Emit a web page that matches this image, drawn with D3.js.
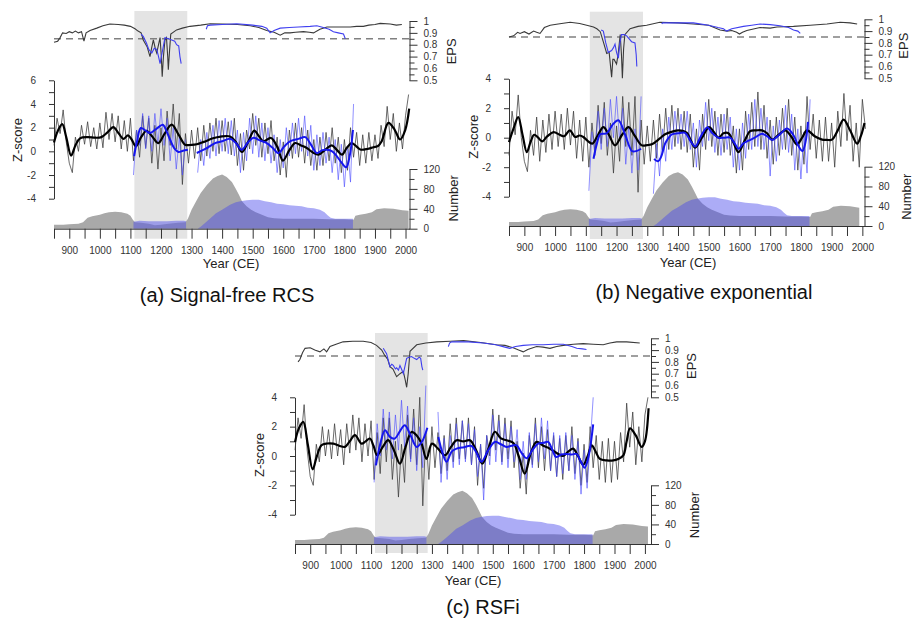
<!DOCTYPE html>
<html><head><meta charset="utf-8">
<script src="https://cdn.jsdelivr.net/npm/d3@7"></script>
<style>
body{margin:0;background:#fff}
svg{display:block}
text{font-family:"Liberation Sans",Arial,sans-serif}
</style>
</head><body>
<svg id="chart" width="915" height="623"></svg>
<script>
// ---------------- DATA ----------------
const shadePeriod = [1113, 1286];
const epsThreshold = 0.85;
const epsTickValues = [0.5,0.55,0.6,0.65,0.7,0.75,0.8,0.85,0.9,0.95,1];
const numTickValues = [0,20,40,60,80,100,120];
const yearTickValues = [850,900,950,1000,1050,1100,1150,1200,1250,1300,1350,1400,1450,1500,1550,1600,1650,1700,1750,1800,1850,1900,1950,2000];

// sample depth (shared by all panels): [year, number]
const depthGrey = [[850,8],[880,8],[900,9],[930,10],[945,13],[960,22],[975,25],[1000,28],[1015,31],[1030,33],[1050,34],[1070,33],[1090,30],[1100,26],[1108,18],[1115,13],[1135,12],[1160,10],[1180,7],[1200,8],[1225,10],[1255,12],[1280,13],[1288,20],[1300,38],[1315,55],[1330,72],[1350,88],[1370,101],[1385,106],[1400,109],[1415,104],[1432,94],[1445,80],[1455,68],[1465,55],[1480,45],[1495,38],[1510,33],[1530,28],[1550,23],[1570,21],[1600,20],[1650,20],[1700,20],[1750,19],[1800,19],[1830,18],[1836,26],[1850,28],[1870,30],[1890,33],[1905,39],[1930,41],[1960,40],[1990,37],[2010,36]];
const depthBlue1 = [[1110,14],[1130,16],[1160,15],[1190,15],[1220,15],[1250,16],[1275,16],[1282,15]];
const depthBlue2 = [[1320,0],[1330,4],[1345,12],[1360,20],[1380,31],[1400,38],[1426,48],[1445,53],[1460,55],[1480,57],[1500,58],[1520,58],[1540,55],[1560,53],[1580,50],[1600,49],[1620,47],[1640,46],[1660,45],[1680,42],[1700,41],[1720,38],[1735,33],[1745,27],[1755,22],[1770,20],[1800,20],[1828,20]];

// year grids of the annual (decadal-sampled) series
const noiseYears = d3.range(850, 2011, 10);
const blueYears1 = d3.range(1110, 1281, 10);
const blueYears2 = d3.range(1320, 1831, 10);

// ---- panel (a) ----
const epsBlackA = [[850,0.82],[862,0.83],[870,0.86],[878,0.9],[890,0.895],[900,0.91],[910,0.9],[920,0.915],[930,0.9],[940,0.91],[948,0.83],[955,0.9],[968,0.92],[990,0.94],[1010,0.96],[1033,0.975],[1060,0.97],[1080,0.965],[1100,0.955],[1115,0.935],[1125,0.915],[1135,0.9],[1142,0.84],[1155,0.78],[1164,0.7],[1170,0.78],[1175,0.84],[1182,0.76],[1186,0.73],[1192,0.8],[1197,0.86],[1201,0.7],[1204,0.53],[1208,0.7],[1213,0.84],[1218,0.86],[1222,0.7],[1224,0.59],[1228,0.75],[1232,0.89],[1251,0.925],[1270,0.94],[1295,0.955],[1330,0.965],[1361,0.977],[1400,0.975],[1450,0.97],[1492,0.96],[1520,0.945],[1546,0.92],[1570,0.905],[1590,0.88],[1605,0.9],[1622,0.9],[1640,0.905],[1666,0.91],[1685,0.905],[1699,0.9],[1720,0.93],[1743,0.95],[1780,0.95],[1819,0.95],[1840,0.955],[1862,0.955],[1880,0.965],[1900,0.97],[1917,0.98],[1950,0.975],[1970,0.965],[1988,0.97]];
const epsBlueA1 = [[1135,0.89],[1142,0.87],[1153,0.81],[1160,0.76],[1170,0.73],[1178,0.77],[1186,0.76],[1192,0.7],[1197,0.64],[1205,0.75],[1213,0.86],[1225,0.85],[1235,0.84],[1245,0.83],[1251,0.8],[1258,0.79],[1262,0.7],[1266,0.64]];
const epsBlueA2 = [[1348,0.93],[1352,0.96],[1361,0.965],[1400,0.97],[1448,0.977],[1500,0.965],[1530,0.955],[1546,0.94],[1557,0.9],[1570,0.92],[1590,0.94],[1620,0.945],[1650,0.95],[1688,0.955],[1710,0.96],[1731,0.945],[1750,0.93],[1764,0.91],[1780,0.9],[1797,0.89],[1803,0.85]];
const noiseBlackA = [
 0.5,2.8,1.5,3.5,0.8,-1.0,-1.8,1.2,0.0,2.2,
 0.6,2.5,0.4,2.0,0.2,2.4,0.3,3.3,1.0,3.2,
 0.8,3.0,0.2,2.6,0.0,2.8,-0.8,1.8,-0.5,3.0,
 0.3,2.8,-1.0,2.2,-1.5,2.0,-0.8,3.4,0.5,4.0,
 0.2,3.2,-2.8,1.5,-1.0,1.8,-0.6,2.0,-0.8,2.2,
 -0.4,2.4,0.0,2.8,-0.2,2.6,0.0,2.5,-0.3,2.8,
 -1.2,1.5,-1.6,1.8,0.2,3.2,0.5,2.8,-0.5,2.4,
 -0.2,2.6,-0.8,1.2,-2.0,0.8,-2.2,1.8,-0.6,2.4,
 -0.5,2.0,-1.0,1.8,-1.2,1.0,-1.6,1.2,-1.2,1.6,
 -0.8,2.0,-1.0,1.2,-1.8,1.0,-1.6,2.0,-0.5,1.6,
 -1.2,1.4,-1.0,1.6,-0.8,1.4,-0.6,2.2,0.4,3.8,
 1.0,3.2,0.0,2.4,0.2,3.0,4.8];
const noiseBlueA1 = [-2.0,1.8,0.5,3.2,0.2,3.0,0.0,3.2,0.6,3.6,0.5,2.8,-0.8,2.0,-1.5,1.2,-2.0,1.0];
const noiseBlueA2 = [
 -1.8,1.0,-1.2,1.6,-0.6,2.2,-0.4,2.6,0.0,2.8,
 -0.2,2.6,-0.4,1.8,-1.8,1.6,-0.8,2.8,-0.2,3.0,
 -0.5,2.4,-0.8,2.0,-1.0,1.4,-1.8,1.0,-1.4,2.0,
 -0.4,2.4,-0.2,2.8,0.0,3.0,-0.4,2.2,-1.6,1.4,
 -1.2,1.6,-1.0,1.2,-1.8,1.0,-2.4,0.6,-3.0,0.4,
 -2.6,4.0];
const smoothBlackA = [[850,0.75],[862,1.7],[877,2.3],[890,1.2],[906,-0.36],[920,0.5],[935,1.1],[960,1.2],[985,1.15],[1005,1.2],[1025,1.6],[1044,2.05],[1062,1.5],[1077,1.05],[1092,1.35],[1104,1.0],[1118,0.42],[1135,1.2],[1153,1.74],[1170,1.3],[1191,0.7],[1212,1.5],[1235,2.25],[1258,1.4],[1279,0.56],[1300,0.55],[1317,0.6],[1340,0.8],[1370,1.1],[1395,1.25],[1426,1.26],[1445,0.8],[1465,-0.05],[1485,0.8],[1505,1.75],[1520,1.3],[1535,0.85],[1560,1.13],[1580,0.4],[1599,-0.78],[1620,0.1],[1639,0.7],[1658,0.5],[1677,0.28],[1697,-0.1],[1715,-0.28],[1738,0.15],[1759,0.5],[1776,0.1],[1792,-0.28],[1808,0.3],[1824,0.7],[1840,0.4],[1852,0.15],[1875,0.2],[1895,0.35],[1910,0.45],[1922,0.85],[1944,2.4],[1965,1.8],[1982,1.0],[1999,1.8],[2012,3.6]];
const smoothBlueA1 = [[1112,-0.4],[1122,0.9],[1134,1.97],[1150,1.75],[1164,1.55],[1185,1.9],[1206,2.24],[1218,1.7],[1230,0.98],[1245,0.2],[1257,-0.05],[1272,0.05],[1288,0.14]];
const smoothBlueA2 = [[1317,-0.14],[1345,0.2],[1377,0.7],[1400,0.85],[1426,1.07],[1445,0.7],[1464,0.14],[1483,0.7],[1502,1.15],[1525,0.9],[1546,0.7],[1565,0.3],[1584,-0.14],[1603,0.4],[1622,0.85],[1650,1.05],[1672,1.2],[1692,0.5],[1710,-0.14],[1728,0.1],[1743,0.14],[1760,0.0],[1775,-0.4],[1792,-1.0],[1806,-1.34],[1818,-0.3],[1828,1.8]];

// ---- panel (b) ----
const epsBlackB = [[850,0.85],[865,0.86],[878,0.89],[886,0.88],[900,0.895],[915,0.875],[930,0.9],[940,0.89],[951,0.88],[965,0.93],[984,0.95],[1010,0.96],[1049,0.975],[1080,0.965],[1103,0.95],[1125,0.935],[1136,0.92],[1147,0.895],[1158,0.8],[1168,0.71],[1176,0.72],[1184,0.51],[1188,0.66],[1192,0.66],[1200,0.62],[1205,0.7],[1212,0.87],[1216,0.7],[1219,0.5],[1223,0.75],[1227,0.87],[1244,0.92],[1270,0.94],[1298,0.95],[1341,0.975],[1400,0.97],[1450,0.96],[1500,0.95],[1537,0.91],[1560,0.9],[1575,0.905],[1591,0.89],[1600,0.875],[1610,0.89],[1624,0.905],[1667,0.93],[1700,0.925],[1722,0.935],[1776,0.94],[1830,0.95],[1885,0.96],[1928,0.975],[1960,0.97],[1983,0.96]];
const epsBlueB1 = [[1150,0.91],[1157,0.9],[1165,0.8],[1173,0.72],[1184,0.735],[1190,0.76],[1195,0.79],[1200,0.72],[1206,0.67],[1211,0.8],[1216,0.87],[1225,0.87],[1233,0.86],[1249,0.81],[1260,0.8],[1264,0.7],[1266,0.6]];
const epsBlueB2 = [[1347,0.96],[1350,0.97],[1400,0.97],[1450,0.97],[1500,0.95],[1530,0.93],[1548,0.92],[1558,0.9],[1575,0.92],[1613,0.94],[1640,0.95],[1667,0.96],[1700,0.955],[1732,0.945],[1760,0.93],[1776,0.91],[1790,0.9],[1798,0.88]];
const noiseBlackB = [
 -1.2,1.8,0.2,2.9,0.0,-1.6,-2.3,0.5,-1.2,1.4,
 -1.6,1.2,-1.0,1.6,-0.8,1.8,-0.6,1.6,-0.8,2.0,
 -0.5,1.8,-1.4,1.2,-1.6,1.4,-2.0,1.0,-1.0,2.2,
 -0.4,2.4,-1.2,1.0,-2.4,0.8,-1.6,2.8,-0.6,2.4,
 -1.2,2.8,-3.7,1.2,-1.8,0.8,-1.6,1.2,-1.4,1.6,
 -1.0,2.0,-0.8,2.2,-0.6,2.0,-0.8,1.8,-1.0,1.6,
 -2.0,0.6,-2.2,1.6,-0.8,2.6,-0.6,1.8,-1.2,1.6,
 -1.0,2.0,-1.2,0.8,-2.4,0.6,-2.2,1.8,-0.8,2.4,
 -0.6,3.1,-0.8,2.2,-1.4,1.2,-1.8,1.4,-1.2,2.0,
 -0.8,2.6,-1.2,1.4,-2.2,0.8,-1.8,2.8,-0.8,1.6,
 -1.4,1.2,-1.6,1.4,-1.6,1.0,-2.0,1.8,-0.6,3.0,
 -0.2,2.2,-1.6,1.0,-2.0,2.6,0.6];
const noiseBlueB1 = [-3.6,0.4,-1.2,1.8,-0.8,2.0,-0.6,2.6,0.0,2.8,-0.2,2.0,-1.8,0.8,-2.4,0.6,-2.2,2.8];
const noiseBlueB2 = [
 -3.8,-0.4,-2.6,0.6,-1.6,1.4,-0.8,1.8,-0.4,1.6,
 -0.6,1.8,-0.8,1.0,-2.0,1.2,-0.6,2.4,-0.2,2.0,
 -1.0,1.4,-1.2,1.6,-0.8,1.4,-2.0,0.6,-2.2,1.0,
 -1.4,1.6,-0.8,2.6,-0.6,2.0,-0.8,1.4,-2.6,0.8,
 -1.6,1.2,-0.8,2.2,-1.0,1.6,-2.2,0.6,-2.8,0.4,
 -2.4,2.6];
const smoothBlackB = [[850,-0.3],[866,0.7],[880,1.4],[894,0.2],[908,-0.98],[920,-0.3],[932,0.2],[945,0.0],[958,-0.25],[975,0.1],[995,0.38],[1015,0.2],[1030,0.1],[1048,0.5],[1065,0.05],[1080,0.15],[1092,0.05],[1105,-0.2],[1121,-0.4],[1140,0.2],[1157,0.72],[1175,0.2],[1195,-0.52],[1218,0.2],[1239,0.72],[1260,0.1],[1282,-0.52],[1300,-0.5],[1315,-0.45],[1338,-0.1],[1358,0.23],[1380,0.4],[1402,0.5],[1429,0.33],[1442,-0.2],[1456,-0.68],[1478,0.0],[1501,0.72],[1516,0.4],[1532,0.0],[1548,0.3],[1564,0.3],[1580,-0.3],[1597,-0.98],[1617,-0.2],[1635,0.45],[1655,0.5],[1673,0.5],[1690,0.3],[1706,-0.13],[1728,0.2],[1749,0.5],[1768,0.1],[1787,-0.45],[1804,0.0],[1820,0.5],[1845,0.1],[1869,-0.13],[1885,-0.15],[1901,-0.13],[1920,0.5],[1939,1.23],[1960,0.5],[1983,-0.4],[1995,0.1],[2007,1.0]];
const smoothBlueB1 = [[1125,-1.43],[1136,-0.4],[1147,0.23],[1168,0.3],[1188,0.9],[1206,1.18],[1228,0.2],[1250,-0.9],[1265,-0.9],[1280,-0.75]];
const smoothBlueB2 = [[1322,-1.45],[1335,-1.6],[1345,-1.3],[1358,-0.4],[1370,0.0],[1380,0.23],[1400,0.3],[1423,0.33],[1440,-0.2],[1456,-0.6],[1472,0.0],[1495,0.7],[1512,0.3],[1532,0.0],[1550,0.0],[1570,0.0],[1585,-0.4],[1597,-0.75],[1612,-0.4],[1630,-0.2],[1650,0.0],[1673,0.27],[1690,0.1],[1706,-0.15],[1730,0.2],[1755,0.62],[1775,0.2],[1793,-0.6],[1805,-0.9],[1815,-0.3],[1823,1.07]];

// ---- panel (c) ----
const epsBlackC = [[860,0.8],[866,0.82],[875,0.88],[883,0.915],[900,0.92],[915,0.9],[932,0.885],[945,0.91],[954,0.885],[965,0.93],[985,0.95],[1008,0.97],[1040,0.975],[1074,0.975],[1100,0.965],[1118,0.94],[1135,0.9],[1145,0.855],[1155,0.82],[1162,0.76],[1172,0.74],[1184,0.675],[1195,0.7],[1206,0.72],[1212,0.65],[1217,0.585],[1222,0.7],[1228,0.89],[1250,0.945],[1280,0.96],[1316,0.97],[1360,0.975],[1404,0.98],[1460,0.965],[1512,0.945],[1540,0.94],[1567,0.92],[1585,0.9],[1600,0.885],[1615,0.905],[1644,0.93],[1665,0.925],[1688,0.915],[1710,0.93],[1732,0.94],[1765,0.95],[1797,0.955],[1830,0.95],[1863,0.945],[1885,0.96],[1907,0.97],[1940,0.97],[1983,0.96]];
const epsBlueC1 = [[1140,0.915],[1146,0.89],[1151,0.87],[1156,0.82],[1162,0.76],[1168,0.78],[1173,0.77],[1180,0.74],[1184,0.75],[1190,0.73],[1195,0.77],[1200,0.74],[1206,0.7],[1212,0.77],[1217,0.83],[1225,0.84],[1233,0.845],[1242,0.83],[1250,0.82],[1258,0.84],[1263,0.83],[1267,0.76],[1270,0.73]];
const epsBlueC2 = [[1354,0.93],[1358,0.96],[1365,0.97],[1420,0.97],[1469,0.96],[1510,0.945],[1540,0.925],[1556,0.915],[1575,0.93],[1600,0.94],[1630,0.945],[1666,0.945],[1700,0.95],[1732,0.95],[1760,0.93],[1776,0.915],[1795,0.91],[1808,0.905]];
const noiseBlackC = [
 0.4,2.6,1.2,3.5,0.4,-1.4,-2.0,0.8,-0.4,2.0,
 0.0,1.8,-0.2,2.2,0.0,1.8,-0.6,2.2,0.2,2.8,
 0.4,2.6,-0.4,2.2,0.0,2.4,-1.6,1.6,-1.2,2.6,
 -0.4,2.6,-1.6,1.0,-2.8,0.8,-1.8,2.8,-0.2,3.2,
 -0.6,4.0,-3.4,1.6,-1.6,2.0,-0.8,1.6,-1.2,1.4,
 -1.0,2.2,-0.4,2.6,-0.2,2.4,-0.2,2.6,-0.6,2.0,
 -2.0,0.8,-2.2,1.4,0.0,3.2,0.4,2.8,-0.4,2.6,
 -0.2,2.4,-0.8,1.0,-2.2,0.2,-2.6,1.4,-0.6,2.6,
 -0.8,2.0,-1.0,1.8,-1.0,1.4,-1.4,1.2,-1.6,1.4,
 -1.0,2.0,-1.2,1.2,-2.0,0.8,-1.8,2.0,-0.8,1.4,
 -1.6,1.0,-1.8,1.2,-1.8,1.0,-1.6,1.6,-0.4,3.6,
 0.6,3.0,-0.6,2.0,-0.4,2.8,4.0];
const noiseBlueC1 = [-1.8,2.2,0.0,3.2,0.4,3.0,-0.2,2.8,0.4,3.8,0.6,3.4,-0.4,2.6,-1.0,2.0,-0.8,4.8];
const noiseBlueC2 = [
 3.0,-1.8,1.2,-1.6,1.4,-0.8,2.2,-0.6,2.4,-0.4,
 2.2,-0.6,1.8,-1.4,0.8,-3.0,1.4,-0.6,2.8,-0.4,
 2.4,-0.6,2.2,-0.8,2.0,-0.4,1.8,-1.6,1.0,-1.6,
 1.6,-0.8,2.2,-0.4,2.6,-0.2,2.4,-1.0,1.6,-1.4,
 1.4,-1.2,1.6,-1.0,1.4,-1.6,1.0,-2.6,0.4,-2.2,
 0.8,4.0];
const smoothBlackC = [[850,0.96],[863,1.9],[877,2.33],[892,0.8],[908,-0.91],[922,0.0],[937,0.73],[955,0.85],[976,0.84],[995,0.7],[1014,0.62],[1030,1.0],[1047,1.42],[1069,0.84],[1082,1.0],[1096,1.19],[1108,0.7],[1120,0.05],[1138,0.6],[1156,1.08],[1175,0.4],[1195,-0.52],[1213,0.6],[1233,1.64],[1250,1.4],[1266,0.84],[1282,-0.2],[1300,0.84],[1320,0.5],[1343,0.05],[1362,0.6],[1381,1.07],[1403,1.0],[1425,1.07],[1445,0.4],[1466,-0.52],[1487,0.6],[1507,1.65],[1527,1.2],[1545,1.07],[1567,0.9],[1585,0.0],[1605,-1.2],[1625,0.2],[1644,0.96],[1666,0.7],[1688,0.5],[1715,0.14],[1731,0.0],[1748,0.3],[1764,0.5],[1780,0.0],[1797,-0.6],[1812,0.0],[1825,0.73],[1838,0.3],[1852,-0.2],[1875,-0.3],[1896,-0.3],[1912,-0.2],[1929,0.05],[1940,1.0],[1951,1.88],[1970,1.4],[1989,0.62],[2000,1.0],[2012,3.25]];
const smoothBlueC1 = [[1116,-0.64],[1130,0.8],[1146,1.76],[1162,1.3],[1178,1.19],[1195,1.7],[1211,2.1],[1230,1.4],[1250,0.62],[1268,1.0],[1285,1.92]];
const smoothBlueC2 = [[1321,1.3],[1335,0.2],[1348,-0.4],[1365,0.3],[1381,0.5],[1405,0.6],[1430,0.68],[1447,0.2],[1463,-0.4],[1485,0.4],[1507,0.96],[1527,0.8],[1545,0.62],[1562,0.7],[1578,0.73],[1595,0.2],[1611,-0.15],[1630,0.4],[1649,0.84],[1668,0.9],[1682,0.96],[1696,0.4],[1708,-0.07],[1725,0.1],[1742,0.14],[1760,0.1],[1775,0.14],[1790,-0.4],[1802,-0.8],[1815,0.0],[1830,2.15]];

const titles = ['(a) Signal-free RCS', '(b) Negative exponential', '(c) RSFi'];

// ---------------- LAYOUT ----------------
const panels = [
 {title:titles[0], xr:[54,409.5], xMax:2013, zDom:[-4,6], zr:[198.7,80.3], epsR:[80.3,21], numR:[228.7,169], shadeY:[11,238.7],
  zLab:[17.7,140], epsLab:[451.7,51.3], numLab:[453.3,198.3], yearLab:[231,268], titlePos:[227,302],
  epsBlack:epsBlackA, epsBlue:[epsBlueA1,epsBlueA2], noiseBlack:noiseBlackA, noiseBlue:[noiseBlueA1,noiseBlueA2], smoothBlack:smoothBlackA, smoothBlue:[smoothBlueA1,smoothBlueA2]},
 {title:titles[1], xr:[509,864.5], xMax:2007, zDom:[-4,4], zr:[196.7,78.7], epsR:[78.3,19.3], numR:[226,166.7], shadeY:[11.7,239],
  zLab:[473.3,136.7], epsLab:[903.3,45.7], numLab:[906,196.7], yearLab:[688,266.5], titlePos:[704,299],
  epsBlack:epsBlackB, epsBlue:[epsBlueB1,epsBlueB2], noiseBlack:noiseBlackB, noiseBlue:[noiseBlueB1,noiseBlueB2], smoothBlack:smoothBlackB, smoothBlue:[smoothBlueB1,smoothBlueB2]},
 {title:titles[2], xr:[295,651], xMax:2020, zDom:[-4,4], zr:[514.7,397.3], epsR:[397.3,338.3], numR:[544,485.3], shadeY:[333,553],
  zLab:[259.3,455], epsLab:[691,366], numLab:[694,515], yearLab:[473,585], titlePos:[483,614],
  epsBlack:epsBlackC, epsBlue:[epsBlueC1,epsBlueC2], noiseBlack:noiseBlackC, noiseBlue:[noiseBlueC1,noiseBlueC2], smoothBlack:smoothBlackC, smoothBlue:[smoothBlueC1,smoothBlueC2]}
];

const FONT = '"Liberation Sans", Arial, sans-serif';
const svg = d3.select('#chart');

function styleAxis(sel){
  sel.attr('font-family', FONT).attr('font-size', 10);
  sel.selectAll('.domain').attr('stroke','#333').attr('stroke-width',1);
  sel.selectAll('.tick line').attr('stroke','#333').attr('stroke-width',1);
  sel.selectAll('.tick text').attr('fill','#333');
}

function drawPanel(p){
  const g = svg.append('g');
  const x = d3.scaleLinear().domain([850, p.xMax]).range(p.xr);
  const z = d3.scaleLinear().domain(p.zDom).range(p.zr);
  const e = d3.scaleLinear().domain([0.5, 1]).range(p.epsR);
  const n = d3.scaleLinear().domain([0, 120]).range(p.numR);

  // shaded period
  g.append('rect')
    .attr('x', x(shadePeriod[0])).attr('width', x(shadePeriod[1]) - x(shadePeriod[0]))
    .attr('y', p.shadeY[0]).attr('height', p.shadeY[1] - p.shadeY[0])
    .attr('fill', '#e4e4e4');

  // sample depth areas
  const area = d3.area().x(d => x(d[0])).y0(n(0)).y1(d => n(d[1]));
  g.append('path').datum(depthGrey.filter(d => d[0] <= p.xMax)).attr('d', area).attr('fill', '#a9a9a9');
  [depthBlue1, depthBlue2].forEach(s => {
    g.append('path').datum(s).attr('d', area)
      .attr('fill', 'rgb(70,70,235)').attr('fill-opacity', 0.45);
  });

  // axes
  const axB = d3.axisBottom(x).tickValues(yearTickValues.filter(v => v <= p.xMax))
    .tickSize(10).tickSizeOuter(0).tickPadding(8)
    .tickFormat(d => d % 100 === 0 ? String(d) : '');
  g.append('g').attr('transform', `translate(0,${n(0)})`).call(axB).call(styleAxis);

  const zTicks = d3.range(p.zDom[0], p.zDom[1] + 1);
  const axL = d3.axisLeft(z).tickValues(zTicks).tickSize(5).tickSizeOuter(0).tickPadding(13)
    .tickFormat(d => d % 2 === 0 ? String(d) : '');
  g.append('g').attr('transform', `translate(${p.xr[0]},0)`).call(axL).call(styleAxis);

  const isMajE = d => Math.round(d * 100) % 10 === 0;
  const axE = d3.axisRight(e).tickValues(epsTickValues).tickSize(8).tickSizeOuter(0).tickPadding(6)
    .tickFormat(d => isMajE(d) ? String(Math.round(d * 10) / 10) : '');
  const gE = g.append('g').attr('transform', `translate(${p.xr[1]},0)`).call(axE).call(styleAxis);
  gE.selectAll('.tick line').attr('x2', d => isMajE(d) ? 8 : 5);

  const isMajN = d => d % 40 === 0;
  const axN = d3.axisRight(n).tickValues(numTickValues).tickSize(8).tickSizeOuter(0).tickPadding(6)
    .tickFormat(d => isMajN(d) ? String(d) : '');
  const gN = g.append('g').attr('transform', `translate(${p.xr[1]},0)`).call(axN).call(styleAxis);
  gN.selectAll('.tick line').attr('x2', d => isMajN(d) ? 8 : 5);

  // EPS threshold
  g.append('line').attr('x1', p.xr[0]).attr('x2', p.xr[1])
    .attr('y1', e(epsThreshold)).attr('y2', e(epsThreshold))
    .attr('stroke', '#808080').attr('stroke-width', 1.6).attr('stroke-dasharray', '7,5');

  // EPS lines
  const epsLine = d3.line().x(d => x(d[0])).y(d => e(d[1]));
  g.append('path').datum(p.epsBlack).attr('d', epsLine)
    .attr('fill', 'none').attr('stroke', '#3a3a3a').attr('stroke-width', 1.1);
  p.epsBlue.forEach(s => g.append('path').datum(s).attr('d', epsLine)
    .attr('fill', 'none').attr('stroke', '#3f3ff0').attr('stroke-width', 1.1));

  // annual series
  const noiseLine = yrs => d3.line().x((d, i) => x(yrs[i])).y(d => z(d));
  g.append('path').datum(p.noiseBlack).attr('d', noiseLine(noiseYears))
    .attr('fill', 'none').attr('stroke', '#3a3a3a').attr('stroke-opacity', 0.75).attr('stroke-width', 1.0);
  [[p.noiseBlue[0], blueYears1], [p.noiseBlue[1], blueYears2]].forEach(([vals, yrs]) => {
    g.append('path').datum(vals).attr('d', noiseLine(yrs))
      .attr('fill', 'none').attr('stroke', '#4848ff').attr('stroke-opacity', 0.6).attr('stroke-width', 1.0);
  });

  // smoothed series
  const sm = d3.line().x(d => x(d[0])).y(d => z(d[1])).curve(d3.curveCatmullRom.alpha(0.5));
  g.append('path').datum(p.smoothBlack).attr('d', sm)
    .attr('fill', 'none').attr('stroke', '#000').attr('stroke-width', 2.2);
  p.smoothBlue.forEach(s => g.append('path').datum(s).attr('d', sm)
    .attr('fill', 'none').attr('stroke', '#1515ee').attr('stroke-width', 2));

  // labels
  const vlabel = (txt, pos) => g.append('text')
    .attr('transform', `translate(${pos[0]},${pos[1]}) rotate(-90)`)
    .attr('text-anchor', 'middle').attr('dy', '0.35em')
    .attr('font-size', 13).attr('fill', '#222').text(txt);
  vlabel('Z-score', p.zLab);
  vlabel('EPS', p.epsLab);
  vlabel('Number', p.numLab);
  g.append('text').attr('x', p.yearLab[0]).attr('y', p.yearLab[1])
    .attr('text-anchor', 'middle').attr('font-size', 13).attr('fill', '#222').text('Year (CE)');
  g.append('text').attr('x', p.titlePos[0]).attr('y', p.titlePos[1])
    .attr('text-anchor', 'middle').attr('font-size', 20).attr('fill', '#111').text(p.title);
}

panels.forEach(drawPanel);
</script>
</body></html>
